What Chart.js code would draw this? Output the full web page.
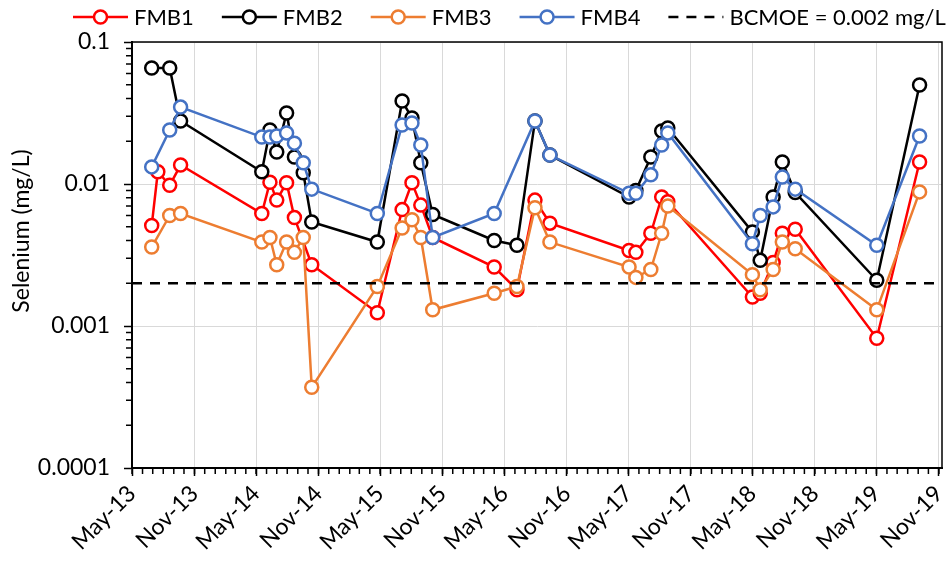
<!DOCTYPE html>
<html>
<head>
<meta charset="utf-8">
<script src="https://cdn.jsdelivr.net/npm/chart.js@4.4.0/dist/chart.umd.min.js"></script>
<style>
  body { margin: 0; background: #fff; }
  #wrap { width: 951px; height: 563px; }
</style>
</head>
<body>
<div id="wrap"><canvas id="chart" width="951" height="563"></canvas></div>
<script>
// Probenahmedaten (gemeinsame Liste fuer alle Stationen)
const sampleDates = ['2013-06-28','2013-07-16','2013-08-20','2013-09-21',
  '2014-05-18','2014-06-11','2014-07-01','2014-07-30','2014-08-22','2014-09-17','2014-10-12',
  '2015-04-23','2015-07-05','2015-08-03','2015-08-29','2015-10-03',
  '2016-04-01','2016-06-07','2016-07-30','2016-09-12',
  '2017-05-03','2017-05-23','2017-07-06','2017-08-07','2017-08-25',
  '2018-05-01','2018-05-24','2018-07-01','2018-07-28','2018-09-04',
  '2019-05-02','2019-09-05'];

// Selen in mg/L, null = keine Probe
const fmb1 = [0.0051,0.0122,0.0098,0.0136, 0.0062,0.0103,0.0077,0.0102,0.0058,null,0.0027,
  0.00124,0.0066,0.0102,0.0071,0.0042, 0.0026,0.0018,0.0077,0.0053,
  0.0034,0.0033,0.0045,0.0081,0.0075, 0.0016,0.0017,0.0028,0.0045,0.0048, 0.00082,0.0143];
const fmb2 = [0.0656,null,0.0656,0.0278, 0.0122,0.0240,0.0168,0.0316,0.0155,0.0120,0.0054,
  0.0039,0.0384,0.0292,0.0141,0.0061, 0.0040,0.0037,0.0278,0.0160,
  0.0081,0.0090,0.0155,0.0236,0.0248, 0.0046,0.0029,0.0081,0.0143,0.0087, 0.0021,0.0498];
const fmb3 = [0.0036,null,0.0060,0.0062, 0.0039,0.0042,0.0027,0.0039,0.0033,0.0042,0.00037,
  0.0019,0.0049,0.0056,0.0042,0.0013, 0.0017,0.0019,0.0068,0.0039,
  0.0026,0.0022,0.0025,0.0045,0.0070, 0.0023,0.0018,0.0025,0.0039,0.0035, 0.0013,0.0088];
const fmb4 = [0.0132,null,0.0240,0.0348, 0.0214,0.0214,0.0218,0.0229,0.0194,0.0141,0.0092,
  0.0062,0.0260,0.0269,0.0188,0.0042, 0.0062,null,0.0278,0.0160,
  0.0086,0.0086,0.0116,0.0188,0.0229, 0.0038,0.0060,0.0069,0.0112,0.0092, 0.0037,0.0218];

const seriesNames = ['FMB1','FMB2','FMB3','FMB4'];
const seriesColors = ['#FF0000','#000000','#ED7D31','#4472C4'];

// Richtwert
const bcmoeLimit = 0.002;
const bcmoeLabel = 'BCMOE = 0.002 mg/L';

// Achsenbeschriftung
const xTickDates = ['2013-05-01','2013-11-01','2014-05-01','2014-11-01','2015-05-01','2015-11-01',
  '2016-05-01','2016-11-01','2017-05-01','2017-11-01','2018-05-01','2018-11-01','2019-05-01','2019-11-01'];
const xTickLabels = ['May-13','Nov-13','May-14','Nov-14','May-15','Nov-15','May-16','Nov-16',
  'May-17','Nov-17','May-18','Nov-18','May-19','Nov-19'];
const yTickValues = [0.0001, 0.001, 0.01, 0.1];
const yTickLabels = ['0.0001','0.001','0.01','0.1'];
const yTitle = 'Selenium (mg/L)';

const ts = d => Date.parse(d + 'T00:00:00Z');
const xMin = ts('2013-05-01');
const xMax = ts('2019-11-10');
const FONT = 'Lato';

const datasets = [fmb1, fmb2, fmb3, fmb4].map((vals, i) => ({
  label: seriesNames[i],
  data: sampleDates.map((d, j) => ({x: ts(d), y: vals[j]})).filter(p => p.y !== null),
  borderColor: seriesColors[i],
  backgroundColor: '#fff',
  pointBackgroundColor: '#fff',
  pointBorderColor: seriesColors[i],
  pointRadius: 6.5,
  pointBorderWidth: 2.5,
  borderWidth: 2.5,
  tension: 0,
  order: 4 - i
}));

datasets.push({
  label: bcmoeLabel,
  data: [{x: xMin, y: bcmoeLimit}, {x: xMax, y: bcmoeLimit}],
  borderColor: '#000',
  borderWidth: 2.5,
  borderDash: [10, 8],
  pointRadius: 0,
  order: 0
});

// Legende, Titel, Rahmen und Nebenstriche selbst zeichnen
const extras = {
  id: 'extras',
  afterDraw(chart) {
    const ctx = chart.ctx;
    const a = chart.chartArea;
    const xs = chart.scales.x, ys = chart.scales.y;
    ctx.save();

    // Rahmen oben/rechts
    ctx.strokeStyle = '#000';
    ctx.lineWidth = 1.5;
    ctx.beginPath();
    ctx.moveTo(a.left, a.top); ctx.lineTo(a.right, a.top); ctx.lineTo(a.right, a.bottom);
    ctx.stroke();

    // Nebenstriche x (monatlich)
    ctx.beginPath();
    for (let y = 2013, m = 4; y < 2020; m++) {
      if (m > 11) { m = 0; y++; }
      const t = Date.UTC(y, m, 1);
      if (t > xMax) break;
      const px = xs.getPixelForValue(t);
      ctx.moveTo(px, a.bottom); ctx.lineTo(px, a.bottom + 6);
    }
    ctx.stroke();

    // Nebenstriche y (log)
    ctx.beginPath();
    for (let e = -4; e < -1; e++) {
      for (let k = 2; k <= 9; k++) {
        const py = ys.getPixelForValue(k * Math.pow(10, e));
        ctx.moveTo(a.left - 6, py); ctx.lineTo(a.left, py);
      }
    }
    ctx.stroke();

    // y-Achsentitel
    ctx.fillStyle = '#000';
    ctx.font = '23px ' + FONT;
    ctx.textAlign = 'center';
    ctx.textBaseline = 'middle';
    ctx.translate(22, 231);
    ctx.rotate(-Math.PI / 2);
    ctx.fillText(yTitle, 0, 0);
    ctx.setTransform(1, 0, 0, 1, 0, 0);

    // Legende
    ctx.font = '22px ' + FONT;
    ctx.textAlign = 'left';
    const ly = 17;
    let lx = 73;
    chart.data.datasets.forEach(ds => {
      ctx.strokeStyle = ds.borderColor;
      ctx.lineWidth = 2.5;
      ctx.setLineDash(ds.borderDash || []);
      ctx.beginPath();
      ctx.moveTo(lx, ly); ctx.lineTo(lx + 55, ly);
      ctx.stroke();
      ctx.setLineDash([]);
      if (!ds.borderDash) {
        ctx.beginPath();
        ctx.arc(lx + 27.5, ly, 6.5, 0, Math.PI * 2);
        ctx.fillStyle = '#fff';
        ctx.fill();
        ctx.stroke();
      }
      ctx.fillStyle = '#000';
      ctx.fillText(ds.label, lx + 61, ly + 1);
      lx += 61 + ctx.measureText(ds.label).width + 28;
    });
    ctx.restore();
  }
};

new Chart(document.getElementById('chart'), {
  type: 'line',
  data: { datasets: datasets },
  options: {
    responsive: false,
    animation: false,
    layout: { padding: { left: 0, top: 42, right: 3, bottom: 0 } },
    plugins: { legend: { display: false }, tooltip: { enabled: false } },
    scales: {
      x: {
        type: 'linear',
        min: xMin,
        max: xMax,
        afterBuildTicks: s => { s.ticks = xTickDates.map(d => ({value: ts(d)})); },
        afterFit: s => { s.height = 95; s.paddingLeft = 0; s.paddingRight = 0; },
        ticks: {
          autoSkip: false,
          maxRotation: 45,
          minRotation: 45,
          color: '#000',
          padding: 4,
          font: { family: FONT, size: 23 },
          callback: v => xTickLabels[xTickDates.findIndex(d => ts(d) === v)]
        },
        grid: { color: '#d9d9d9', lineWidth: 1, tickLength: 8, tickColor: '#000', tickWidth: 1.5 },
        border: { color: '#000', width: 2 }
      },
      y: {
        type: 'logarithmic',
        min: 0.0001,
        max: 0.1,
        afterBuildTicks: s => { s.ticks = yTickValues.map(v => ({value: v})); },
        afterFit: s => { s.width = 132; s.paddingTop = 0; s.paddingBottom = 0; },
        ticks: {
          color: '#000',
          padding: 14,
          font: { family: FONT, size: 23 },
          callback: v => yTickLabels[yTickValues.findIndex(t => Math.abs(Math.log10(t / v)) < 1e-6)]
        },
        grid: { color: '#d9d9d9', lineWidth: 1, tickLength: 8, tickColor: '#000', tickWidth: 1.5 },
        border: { color: '#000', width: 2 }
      }
    }
  },
  plugins: [extras]
});
</script>
</body>
</html>
